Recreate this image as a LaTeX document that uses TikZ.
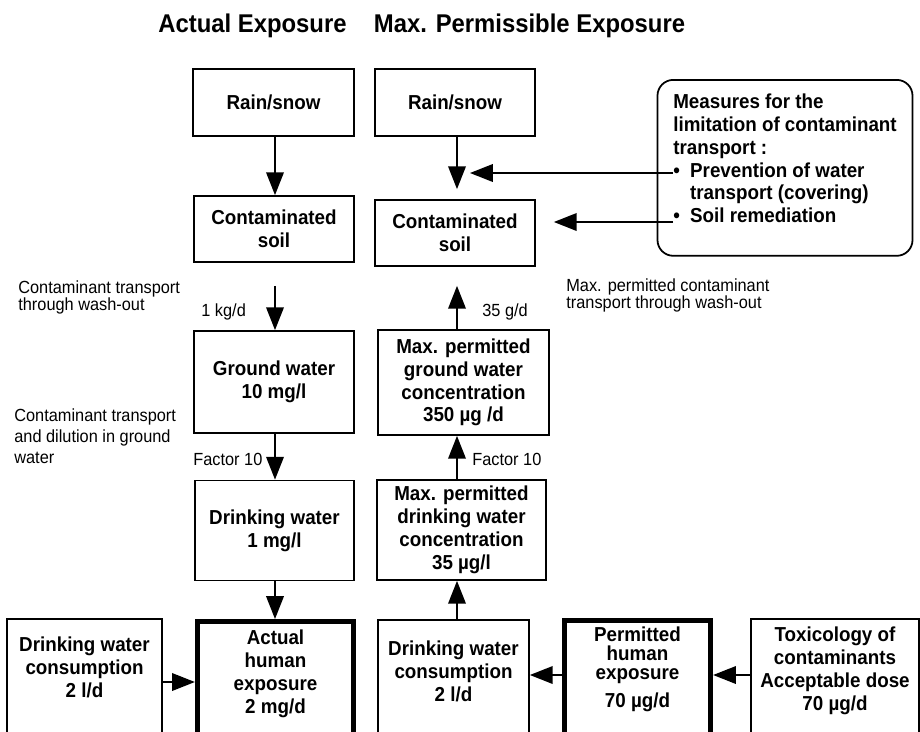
\documentclass[tikz,border=0pt]{standalone}
\usepackage{fontspec}
\setmainfont{Liberation Sans}[FakeStretch=0.93]
\usetikzlibrary{arrows.meta}

\begin{document}
\begin{tikzpicture}[x=0.02cm, y=-0.02cm,
        box/.style={draw, line width=1pt, align=center, inner sep=2pt,
            font=\bfseries\fontsize{11.5}{13}\selectfont},
        thickbox/.style={box, line width=3pt},
        lowbox/.style={anchor=north, text depth=3cm},
        measbox/.style={box, rounded corners=9pt, align=left, anchor=north,
            inner xsep=9pt, inner ysep=8pt, text depth=10.8pt},
        lbl/.style={anchor=north west, inner sep=0pt, align=left,
            font=\fontsize{10}{12}\selectfont},
        title/.style={anchor=base, inner sep=0pt,
            font=\bfseries\fontsize{14.6}{17}\selectfont},
        arr/.style={line width=1pt, -{Triangle[length=13pt, width=10pt]}}]
        \path[use as bounding box] (0,0) rectangle (920,731);
        \clip (0,0) rectangle (920,731);

        \node[title] (tA) at (252.5,32) {Actual Exposure};
        \node[title] (tM) at (529.5,32) {Max. Permissible Exposure};

        \node[box, minimum width=3.22cm, minimum height=1.34cm] (rainA) at (273.5,102.5) {Rain/snow};
        \node[box, minimum width=3.2cm, minimum height=1.32cm] (soilA) at (274,229) {Contaminated\\soil};
        \node[box, minimum width=3.2cm, minimum height=2.04cm] (gwA) at (274,382) {Ground water\\10 mg/l};
        \node[box, minimum width=3.18cm, minimum height=2cm] (dwA) at (274.5,530.5) {Drinking water\\1 mg/l};

        \node[box, minimum width=3.2cm, minimum height=1.34cm] (rainM) at (455,102.5) {Rain/snow};
        \node[box, minimum width=3.2cm, minimum height=1.32cm] (soilM) at (455,233) {Contaminated\\soil};
        \node[box, minimum width=3.42cm, minimum height=2.1cm] (gwM) at (463.5,382.5) {Max. permitted\\ground water\\concentration\\350 µg /d};
        \node[box, minimum width=3.38cm, minimum height=2cm] (dwM) at (461.5,530) {Max. permitted\\drinking water\\concentration\\35 µg/l};

        \node[box, lowbox, minimum width=3.1cm, inner ysep=10.5pt] (consA) at (84.5,618) {Drinking water\\consumption\\2 l/d};
        \node[thickbox, lowbox, minimum width=3.12cm, inner ysep=4.8pt] (expA) at (275.5,619) {Actual\\human\\exposure\\2 mg/d};
        \node[box, lowbox, minimum width=3.02cm, inner ysep=12.2pt] (consM) at (453.5,619) {Drinking water\\consumption\\2 l/d};
        \node[thickbox, lowbox, minimum width=2.92cm, inner ysep=3.6pt] (perm) at (637.5,618) {Permitted\\[-2.5pt]human\\[-2.2pt]exposure\\[3pt]70 µg/d};
        \node[box, lowbox, minimum width=3.36cm, inner ysep=4.8pt] (tox) at (835,618) {Toxicology of\\contaminants\\Acceptable dose\\70 µg/d};

        \node[measbox] (meas) at (785,79) {Measures for the\\limitation of contaminant\\transport :\\\makebox[9.6pt][l]{•}Prevention of water\\\hspace*{9.6pt}transport (covering)\\\makebox[9.6pt][l]{•}Soil remediation};

        \node[lbl] (washA) at (18,280) {Contaminant transport\\[-2.2pt]through wash-out};
        \node[lbl] (washM) at (566,278) {Max. permitted contaminant\\[-2.2pt]transport through wash-out};
        \node[lbl] (dilA) at (14,408) {Contaminant transport\\and dilution in ground\\water};
        \node[lbl] (kgA) at (201,303) {1 kg/d};
        \node[lbl] (gM) at (482,303) {35 g/d};
        \node[lbl] (facA) at (193,453) {Factor 10};
        \node[lbl] (facM) at (472,453) {Factor 10};

        \coordinate (colA) at (275,0);
        \coordinate (colM) at (457,0);
        \coordinate (rowA) at (0,682);
        \coordinate (rowM) at (0,675);
        \coordinate (m1) at (673,173);
        \coordinate (m2) at (673,222);

        \draw[arr] (rainA.south -| colA) -- (soilA.north -| colA);
        \draw[arr, shorten <=0.46cm] (soilA.south -| colA) -- (gwA.north -| colA);
        \draw[arr] (gwA.south -| colA) -- (dwA.north -| colA);
        \draw[arr] (dwA.south -| colA) -- (expA.north -| colA);

        \draw[arr, shorten >=0.2cm] (rainM.south -| colM) -- (soilM.north -| colM);
        \draw[arr, shorten >=0.38cm] (gwM.north -| colM) -- (soilM.south -| colM);
        \draw[arr] (dwM.north -| colM) -- (gwM.south -| colM);
        \draw[arr] (consM.north -| colM) -- (dwM.south -| colM);

        \draw[arr] (consA.east |- rowA) -- (expA.west |- rowA);
        \draw[arr] (perm.west |- rowM) -- (consM.east |- rowM);
        \draw[arr] (tox.west |- rowM) -- (perm.east |- rowM);

        \draw[arr, shorten >=0.26cm] (m1) -- (m1 -| colM);
        \draw[arr, shorten >=0.36cm] (m2) -- (soilM.east |- m2);
    \end{tikzpicture}
\end{document}
